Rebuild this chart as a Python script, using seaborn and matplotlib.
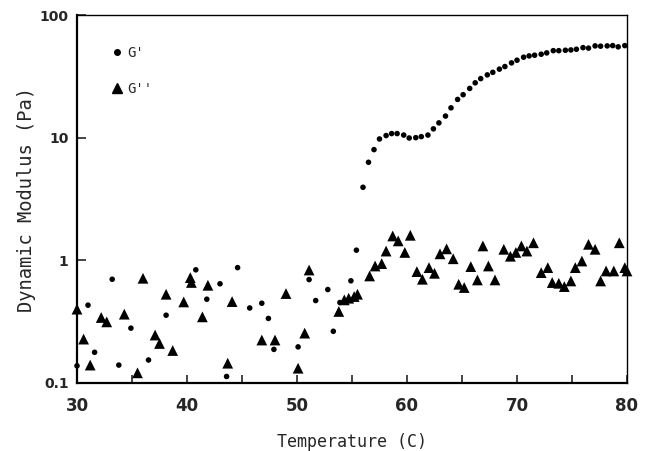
import numpy as np
import pandas as pd
import matplotlib
matplotlib.use("Agg")
import matplotlib.pyplot as plt
from matplotlib.lines import Line2D
import seaborn as sns

# Storage modulus G' (Pa) vs temperature (C)
gp_temp = [30.0, 31.0, 31.6, 33.2, 33.8, 34.9, 36.5, 38.1,
           40.8, 41.8, 43.0, 43.6, 44.6, 45.7, 46.8, 47.4, 47.9,
           50.1, 51.1, 51.7, 52.8, 53.3, 53.9, 54.9, 55.4,
           56.0, 56.5, 57.0, 57.5, 58.1, 58.6, 59.1, 59.7, 60.2, 60.8,
           61.3, 61.9, 62.4, 62.9, 63.5, 64.0, 64.6, 65.1, 65.7, 66.2,
           66.7, 67.3, 67.8, 68.4, 68.9, 69.5, 70.0, 70.6, 71.1, 71.6,
           72.2, 72.7, 73.3, 73.8, 74.4, 74.9, 75.4, 76.0, 76.5, 77.1,
           77.6, 78.2, 78.7, 79.2, 79.8]
gp_mod = [0.138, 0.431, 0.178, 0.701, 0.140, 0.280, 0.154, 0.357,
          0.837, 0.482, 0.644, 0.113, 0.872, 0.409, 0.447, 0.336, 0.188,
          0.197, 0.697, 0.470, 0.578, 0.264, 0.453, 0.681, 1.21,
          3.94, 6.30, 7.99, 9.76, 10.4, 10.8, 10.8, 10.5, 9.94, 10.0,
          10.2, 10.5, 11.8, 13.2, 15.0, 17.5, 20.5, 22.4, 25.2, 28.0,
          30.3, 32.5, 34.1, 36.2, 38.0, 40.7, 42.8, 45.3, 46.4, 47.0,
          47.9, 49.1, 51.2, 51.2, 51.6, 51.9, 52.6, 54.2, 53.7, 56.0,
          55.7, 56.0, 56.3, 55.0, 56.3]

# Loss modulus G'' (Pa) vs temperature (C)
gpp_temp = [30.0, 30.6, 31.2, 32.2, 32.7, 34.3, 35.5, 36.0, 37.1, 37.5,
            38.1, 38.7, 39.7, 40.3, 40.4, 41.4, 41.9, 43.7, 44.1, 46.8,
            48.0, 49.0, 50.1, 50.7, 51.1, 53.8, 54.3, 54.7, 55.2, 55.5,
            56.6, 57.1, 57.7, 58.1, 58.7, 59.2, 59.8, 60.3, 60.9, 61.4,
            62.0, 62.5, 63.0, 63.6, 64.2, 64.7, 65.2, 65.8, 66.4, 66.9,
            67.4, 68.0, 68.8, 69.4, 69.9, 70.4, 70.9, 71.5, 72.2, 72.8,
            73.2, 73.8, 74.3, 74.9, 75.3, 75.9, 76.5, 77.1, 77.6, 78.1,
            78.8, 79.3, 79.8, 80.0]
gpp_mod = [0.40, 0.228, 0.140, 0.342, 0.315, 0.364, 0.121, 0.714, 0.246, 0.210,
           0.529, 0.184, 0.458, 0.723, 0.66, 0.346, 0.626, 0.145, 0.461, 0.224,
           0.224, 0.536, 0.132, 0.255, 0.834, 0.383, 0.476, 0.491, 0.507, 0.529,
           0.746, 0.899, 0.940, 1.19, 1.58, 1.44, 1.16, 1.60, 0.809, 0.701,
           0.872, 0.784, 1.13, 1.24, 1.03, 0.638, 0.600, 0.889, 0.692, 1.31,
           0.899, 0.692, 1.23, 1.08, 1.16, 1.31, 1.19, 1.39, 0.794, 0.872,
           0.659, 0.650, 0.611, 0.679, 0.872, 0.987, 1.35, 1.23, 0.679, 0.819,
           0.819, 1.39, 0.872, 0.819]

x_ticks = [30, 40, 50, 60, 70, 80]
y_ticks = [0.1, 1, 10, 100]
y_ticklabels = ["0.1", "1", "10", "100"]

sns.set_theme(style="white")
plt.rcParams["font.family"] = ["DejaVu Sans"]

fig = plt.figure(figsize=(6.47, 4.51), dpi=100)
ax = fig.add_axes([77 / 647, 1 - 383 / 451, 550 / 647, 368 / 451])

gp = pd.DataFrame({"T": gp_temp, "G": gp_mod})
gpp = pd.DataFrame({"T": gpp_temp, "G": gpp_mod})

sns.scatterplot(data=gpp, x="T", y="G", marker="^", s=60, color="black",
                edgecolor="none", ax=ax, clip_on=False, zorder=3)
sns.scatterplot(data=gp, x="T", y="G", marker="o", s=16, color="black",
                edgecolor="none", ax=ax, clip_on=False, zorder=4)

ax.set_yscale("log")
ax.set_xlim(30, 80)
ax.set_ylim(0.1, 100)

ax.set_xticks(x_ticks)
ax.set_xticks([35, 45, 55, 65, 75], minor=True)
ax.set_yticks(y_ticks)
ax.set_yticklabels(y_ticklabels)
ax.yaxis.set_minor_locator(matplotlib.ticker.NullLocator())

ax.tick_params(axis="x", which="both", direction="in", length=6, width=1.2,
               pad=10, bottom=True, top=False, labelsize=12)
ax.tick_params(axis="y", which="major", direction="in", length=6.5, width=1.2,
               pad=6, left=True, right=False, labelsize=10)
for lbl in ax.get_xticklabels() + ax.get_yticklabels():
    lbl.set_fontweight("bold")

for side in ["left", "bottom"]:
    ax.spines[side].set_linewidth(1.6)
for side in ["top", "right"]:
    ax.spines[side].set_linewidth(1.0)
for sp in ax.spines.values():
    sp.set_color("black")
    sp.set_visible(True)

ax.set_xlabel("Temperature (C)", family="DejaVu Sans Mono", fontsize=12,
              labelpad=13)
ax.set_ylabel("Dynamic Modulus (Pa)", family="DejaVu Sans Mono", fontsize=13.5,
              labelpad=3)

handles = [
    Line2D([], [], marker="o", linestyle="none", color="black", markersize=4),
    Line2D([], [], marker="^", linestyle="none", color="black", markersize=7.5),
]
ax.legend(handles, ["G'", "G''"], loc="upper left", frameon=False,
          bbox_to_anchor=(0.035, 0.95), labelspacing=1.6, handletextpad=0.1,
          handlelength=1.2, prop={"family": "DejaVu Sans Mono", "size": 10})

fig.savefig("out.png", dpi=100)
